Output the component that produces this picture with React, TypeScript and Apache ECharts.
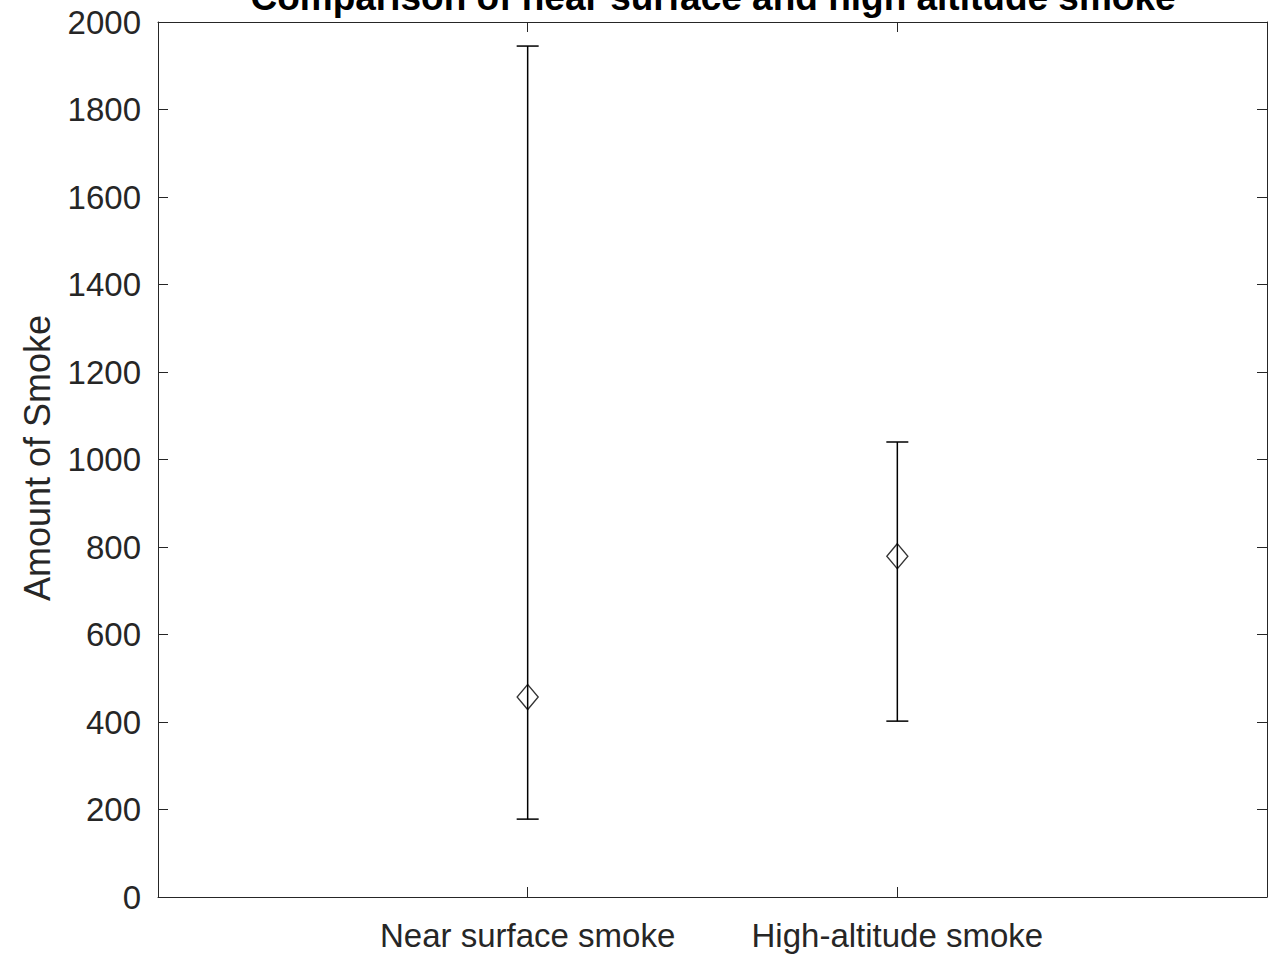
import React, { useEffect, useRef } from "react";
import * as echarts from "echarts";

const categories = ["Near surface smoke", "High-altitude smoke"];
const positions = [1, 2];
const means = [457, 779];
const lowers = [178, 402];
const uppers = [1945, 1040];
const yTicks = [0, 200, 400, 600, 800, 1000, 1200, 1400, 1600, 1800, 2000];

const FONT = "'Liberation Sans', Arial, Helvetica, sans-serif";
const TXT = "#262626";

export default function App() {
  const ref = useRef<HTMLDivElement>(null);
  useEffect(() => {
    if (!ref.current) return;
    const chart = echarts.init(ref.current, undefined, { renderer: "svg" });
    const errData = positions.map((p, i) => [p, lowers[i], uppers[i]]);
    const meanData = positions.map((p, i) => [p, means[i]]);
    const axisLine = { show: true, onZero: false, lineStyle: { color: TXT, width: 1 } };
    const tick = { show: true, inside: true, length: 10, lineStyle: { color: TXT, width: 1 } };
    chart.setOption({
      animation: false,
      backgroundColor: "#ffffff",
      grid: { left: 158, right: 11, top: 22, bottom: 59, containLabel: false },
      graphic: [
        {
          type: "text",
          x: 713,
          y: -3,
          style: {
            text: "Comparison of near surface and high altitude smoke",
            font: `bold 37px ${FONT}`,
            fill: "#000",
            textAlign: "center",
            textVerticalAlign: "middle",
          },
        },
        {
          type: "text",
          x: 37,
          y: 458,
          rotation: Math.PI / 2,
          style: {
            text: "Amount of Smoke",
            font: `36px ${FONT}`,
            fill: TXT,
            textAlign: "center",
            textVerticalAlign: "middle",
          },
        },
      ],
      xAxis: [
        {
          type: "value",
          min: 0,
          max: 3,
          interval: 1,
          position: "bottom",
          axisLine,
          axisTick: { ...tick, customValues: positions },
          splitLine: { show: false },
          axisLabel: {
            customValues: positions,
            formatter: (v: number) => categories[positions.indexOf(v)] ?? "",
            color: TXT,
            fontFamily: FONT,
            fontSize: 33,
            margin: 22,
          },
        },
        {
          type: "value",
          min: 0,
          max: 3,
          interval: 1,
          position: "top",
          axisLine,
          axisTick: { ...tick, customValues: positions },
          splitLine: { show: false },
          axisLabel: { show: false },
        },
      ],
      yAxis: [
        {
          type: "value",
          min: 0,
          max: 2000,
          interval: 200,
          position: "left",
          axisLine,
          axisTick: { ...tick, customValues: yTicks },
          splitLine: { show: false },
          axisLabel: {
            customValues: yTicks,
            formatter: (v: number) => String(v),
            color: TXT,
            fontFamily: FONT,
            fontSize: 33,
            margin: 17,
          },
        },
        {
          type: "value",
          min: 0,
          max: 2000,
          interval: 200,
          position: "right",
          axisLine,
          axisTick: { ...tick, customValues: yTicks },
          splitLine: { show: false },
          axisLabel: { show: false },
        },
      ],
      series: [
        {
          type: "custom",
          xAxisIndex: 0,
          yAxisIndex: 0,
          data: errData,
          renderItem: (params: any, api: any) => {
            const x = api.value(0);
            const lo = api.value(1);
            const hi = api.value(2);
            const pHi = api.coord([x, hi]);
            const pLo = api.coord([x, lo]);
            const hw = 11;
            const style = { stroke: "#000", lineWidth: 1.5 };
            return {
              type: "group",
              children: [
                { type: "line", shape: { x1: pHi[0], y1: pHi[1], x2: pLo[0], y2: pLo[1] }, style },
                { type: "line", shape: { x1: pHi[0] - hw, y1: pHi[1], x2: pHi[0] + hw, y2: pHi[1] }, style },
                { type: "line", shape: { x1: pLo[0] - hw, y1: pLo[1], x2: pLo[0] + hw, y2: pLo[1] }, style },
              ],
            };
          },
          z: 2,
        },
        {
          type: "scatter",
          xAxisIndex: 0,
          yAxisIndex: 0,
          data: meanData,
          symbol: "diamond",
          symbolSize: [21, 25],
          itemStyle: { color: "rgba(0,0,0,0)", borderColor: "#000", borderWidth: 1.4 },
          z: 3,
        },
      ],
    });
    return () => chart.dispose();
  }, []);
  return (
    <div
      ref={ref}
      style={{ position: "fixed", left: 0, top: 0, width: 1278, height: 956, background: "#fff" }}
    />
  );
}
